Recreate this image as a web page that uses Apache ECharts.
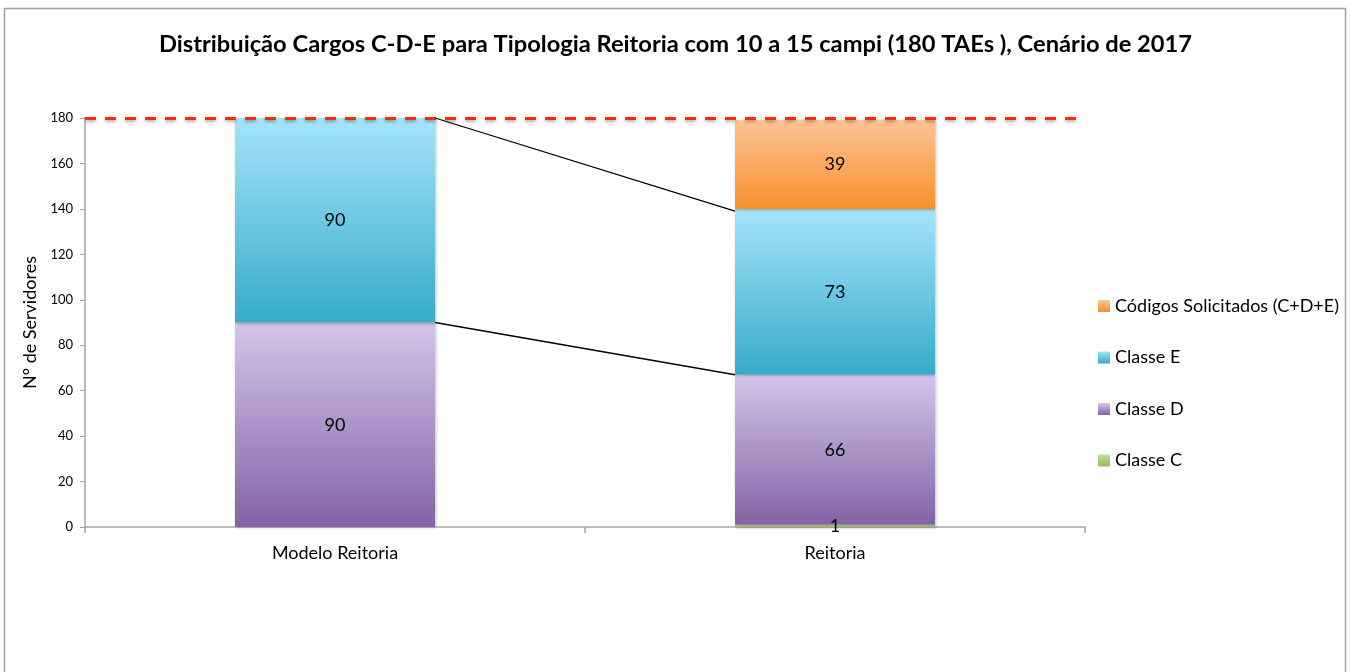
<!DOCTYPE html>
<html>
<head>
<meta charset="utf-8">
<script src="https://cdn.jsdelivr.net/npm/echarts@6/dist/echarts.min.js"></script>
<style>
  html, body { margin: 0; padding: 0; background: #fff; }
  #chart { width: 1351px; height: 672px; }
</style>
</head>
<body>
<div id="chart"></div>
<script>
var categories = ['Modelo Reitoria', 'Reitoria'];
var classeC = [0, 1];
var classeD = [90, 66];
var classeE = [90, 73];
var codigos = [0, 39];
var yTicks = { min: 0, max: 180, interval: 20 };
var limite = 180;
// series lines: [cat from, value from, cat to, value to]
var seriesLines = [[0, 180, 1, 139], [0, 90, 1, 67]];

var FONT = 'Lato';
var myChart = echarts.init(document.getElementById('chart'));

function grad(top, bottom) {
    return new echarts.graphic.LinearGradient(0, 0, 0, 1, [
        { offset: 0, color: top },
        { offset: 1, color: bottom }
    ]);
}

var label = {
    show: true,
    position: 'inside',
    color: '#000',
    fontSize: 18,
    fontFamily: FONT,
    formatter: function (p) { return p.value ? String(p.value) : ''; }
};

var shadow = { shadowColor: 'rgba(0,0,0,0.25)', shadowBlur: 3, shadowOffsetX: 1, shadowOffsetY: 1 };

function barSeries(name, data, top, bottom, legendColor) {
    return {
        name: name,
        type: 'bar',
        stack: 'total',
        barWidth: '40%',
        data: data,
        label: label,
        color: legendColor,
        itemStyle: Object.assign({ color: grad(top, bottom) }, shadow)
    };
}

var option = {
    animation: false,
    textStyle: { fontFamily: FONT },
    graphic: [{
        type: 'rect',
        shape: { x: 4.5, y: 8.5, width: 1341, height: 700 },
        style: { fill: 'none', stroke: '#a0a0a0', lineWidth: 1.5 },
        silent: true
    }],
    title: {
        text: 'Distribuição Cargos C-D-E para Tipologia Reitoria com 10 a 15 campi (180 TAEs ), Cenário de 2017',
        left: 'center',
        top: 27,
        textStyle: { fontSize: 23.7, fontWeight: 'bold', color: '#000', fontFamily: FONT }
    },
    legend: {
        orient: 'vertical',
        left: 1093,
        top: 292,
        itemWidth: 12,
        itemHeight: 12,
        itemGap: 33.5,
        icon: 'rect',
        data: ['Códigos Solicitados (C+D+E)', 'Classe E', 'Classe D', 'Classe C'],
        textStyle: { fontSize: 18, color: '#000', fontFamily: FONT }
    },
    grid: { left: 85, right: 266, top: 118, bottom: 145 },
    xAxis: {
        type: 'category',
        data: categories,
        axisLine: { lineStyle: { color: '#a6a6a6', width: 1.5 } },
        axisTick: { show: true, length: 6, lineStyle: { color: '#a6a6a6', width: 1.5 } },
        axisLabel: { fontSize: 18, color: '#000', margin: 17, fontFamily: FONT }
    },
    yAxis: {
        type: 'value',
        min: yTicks.min,
        max: yTicks.max,
        interval: yTicks.interval,
        name: 'Nº de Servidores',
        nameLocation: 'middle',
        nameGap: 40,
        nameTextStyle: { fontSize: 18, color: '#000', fontFamily: FONT },
        splitLine: { show: false },
        axisLine: { show: true, lineStyle: { color: '#a6a6a6', width: 1.5 } },
        axisTick: { show: true, length: 5, lineStyle: { color: '#a6a6a6', width: 1 } },
        axisLabel: { fontSize: 13, color: '#000', margin: 12, fontFamily: FONT }
    },
    series: [
        barSeries('Classe C', classeC, '#c4e09a', '#93bd4f', '#9bc45a'),
        barSeries('Classe D', classeD, '#d3c6ea', '#8363a6', '#9a80bd'),
        barSeries('Classe E', classeE, '#a5e4fa', '#36abc9', '#5cc0db'),
        Object.assign(barSeries('Códigos Solicitados (C+D+E)', codigos, '#fec395', '#f6902c', '#f7a05a'), {
            markLine: {
                silent: true,
                symbol: 'none',
                label: { show: false },
                lineStyle: { color: '#ff2a00', type: [11, 9], width: 3, shadowColor: 'rgba(0,0,0,0.3)', shadowBlur: 3, shadowOffsetY: 2 },
                data: [{ yAxis: limite }]
            }
        }),
        {
            type: 'custom',
            silent: true,
            z: 5,
            data: seriesLines,
            renderItem: function (params, api) {
                var p1 = api.coord([api.value(0), api.value(1)]);
                var p2 = api.coord([api.value(2), api.value(3)]);
                var half = api.size([1, 0])[0] * 0.2;
                return {
                    type: 'line',
                    shape: { x1: p1[0] + half, y1: p1[1], x2: p2[0] - half, y2: p2[1] },
                    style: { stroke: '#000', lineWidth: 1.3 }
                };
            }
        }
    ]
};

myChart.setOption(option);
</script>
</body>
</html>
